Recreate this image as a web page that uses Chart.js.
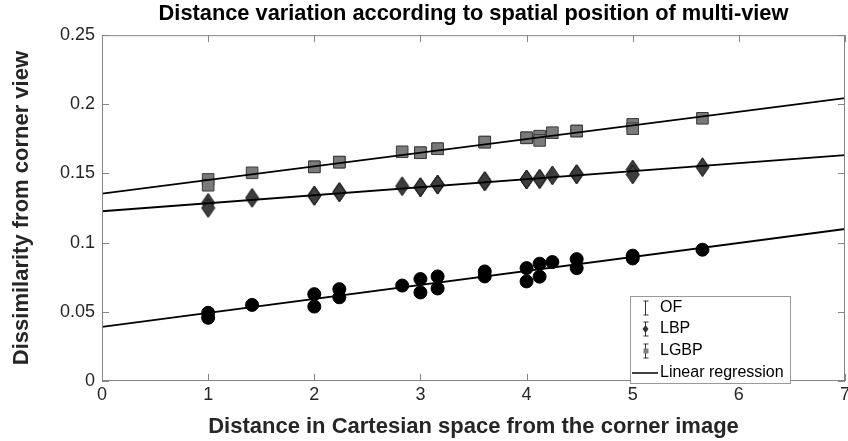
<!DOCTYPE html>
<html>
  <head>
    <title>Distance variation</title>
    <script src="https://cdn.jsdelivr.net/npm/chart.js@4/dist/chart.umd.min.js"></script>
    <style>
      body { margin: 0; background: #fff; overflow: hidden; }
      #container { width: 848px; height: 441px; overflow: hidden; }
    </style>
  </head>
  <body>
    <div id="container">
      <!-- a bit wider than the window: Chart.js keeps room for the last x label -->
      <canvas id="canvas" width="855" height="441"></canvas>
    </div>
    <script>
      // distances (sqrt of grid offsets) and dissimilarities
      var xs = [1, 1, 1.414, 2, 2, 2.236, 2.236, 2.828, 3, 3, 3.162, 3.162,
                3.606, 3.606, 4, 4, 4.123, 4.123, 4.243, 4.472, 4.472, 5, 5, 5.657];
      var ofVals = [0.0493, 0.0457, 0.055, 0.0628, 0.0538, 0.0664, 0.0605, 0.069, 0.0737, 0.064,
                    0.0756, 0.0669, 0.0792, 0.0756, 0.0816, 0.072, 0.0848, 0.0754, 0.086,
                    0.0881, 0.0816, 0.0906, 0.0886, 0.0949];
      var lbpVals = [0.1288, 0.1251, 0.1324, 0.134, 0.134, 0.1365, 0.1365, 0.1408, 0.1401, 0.1401,
                     0.142, 0.142, 0.1444, 0.1444, 0.1457, 0.1457, 0.1461, 0.1461, 0.1486,
                     0.1495, 0.1495, 0.1529, 0.1493, 0.1546];
      var lgbpVals = [0.1457, 0.1415, 0.1505, 0.1548, 0.1548, 0.1582, 0.1582, 0.1657, 0.165, 0.165,
                      0.1679, 0.1679, 0.1727, 0.1727, 0.1758, 0.1758, 0.177, 0.1739, 0.1795,
                      0.1807, 0.1807, 0.1855, 0.1824, 0.1899];
      // regression lines, ends at x = 0 and x = 7
      var fitX = [0, 7];
      var ofFit = [0.0391, 0.1099];
      var lbpFit = [0.1227, 0.1633];
      var lgbpFit = [0.1355, 0.2045];
      var xTicks = [0, 1, 2, 3, 4, 5, 6, 7];
      var yTicks = [0, 0.05, 0.1, 0.15, 0.2, 0.25];
      var legendLabels = ['OF', 'LBP', 'LGBP', 'Linear regression'];

      function pts(x, y) {
        return x.map(function (v, i) { return { x: v, y: y[i] }; });
      }

      // tall diamond marker (MATLAB 'd')
      function diamond(w, h) {
        var c = document.createElement('canvas');
        c.width = w + 2; c.height = h + 2;
        var g = c.getContext('2d');
        g.beginPath();
        g.moveTo(c.width / 2, 1);
        g.lineTo(c.width - 1, c.height / 2);
        g.lineTo(c.width / 2, c.height - 1);
        g.lineTo(1, c.height / 2);
        g.closePath();
        g.fillStyle = '#3d3d3d';
        g.fill();
        g.strokeStyle = '#151515';
        g.lineWidth = 1;
        g.stroke();
        return c;
      }

      var axisColor = '#858585';
      var textColor = '#262626';

      // MATLAB-like box with inward ticks, plus the legend box
      var boxPlugin = {
        id: 'box',
        afterDraw: function (chart) {
          var ctx = chart.ctx, a = chart.chartArea;
          var xs_ = chart.scales.x, ys_ = chart.scales.y;
          ctx.save();
          ctx.strokeStyle = axisColor;
          ctx.lineWidth = 1;
          ctx.strokeRect(a.left + 0.5, a.top + 0.5, a.right - a.left - 1, a.bottom - a.top - 1);
          ctx.beginPath();
          xTicks.forEach(function (t) {
            var px = Math.round(xs_.getPixelForValue(t)) + 0.5;
            ctx.moveTo(px, a.bottom); ctx.lineTo(px, a.bottom - 7);
            ctx.moveTo(px, a.top); ctx.lineTo(px, a.top + 7);
          });
          yTicks.forEach(function (t) {
            var py = Math.round(ys_.getPixelForValue(t)) + 0.5;
            ctx.moveTo(a.left, py); ctx.lineTo(a.left + 7, py);
            ctx.moveTo(a.right, py); ctx.lineTo(a.right - 7, py);
          });
          ctx.stroke();

          // legend
          var lx = 630, ly = 296, lw = 160, lh = 87;
          ctx.fillStyle = '#fff';
          ctx.fillRect(lx, ly, lw, lh);
          ctx.strokeStyle = '#9a9a9a';
          ctx.strokeRect(lx + 0.5, ly + 0.5, lw, lh);
          ctx.font = '16px "Liberation Sans", Arial, sans-serif';
          ctx.fillStyle = '#000';
          ctx.textBaseline = 'middle';
          var rows = [308, 329, 351, 373];
          legendLabels.forEach(function (lab, i) {
            ctx.fillText(lab, 660, rows[i]);
          });
          // error-bar symbols
          ctx.strokeStyle = '#333';
          for (var i = 0; i < 3; i++) {
            var cx = 645.5, cy = rows[i];
            ctx.beginPath();
            ctx.moveTo(cx, cy - 7); ctx.lineTo(cx, cy + 7);
            ctx.moveTo(cx - 2, cy - 7); ctx.lineTo(cx + 3, cy - 7);
            ctx.moveTo(cx - 2, cy + 7); ctx.lineTo(cx + 3, cy + 7);
            ctx.stroke();
          }
          ctx.fillStyle = '#333';
          ctx.beginPath();
          ctx.moveTo(645.5, rows[1] - 4); ctx.lineTo(648.5, rows[1]);
          ctx.lineTo(645.5, rows[1] + 4); ctx.lineTo(642.5, rows[1]);
          ctx.closePath(); ctx.fill();
          ctx.fillStyle = '#808080';
          ctx.fillRect(643.5, rows[2] - 2.5, 5, 5);
          ctx.strokeStyle = '#000';
          ctx.lineWidth = 1.5;
          ctx.beginPath();
          ctx.moveTo(632, rows[3]); ctx.lineTo(658, rows[3]);
          ctx.stroke();
          ctx.restore();
        }
      };

      window.onload = function () {
        var ctx = document.getElementById('canvas').getContext('2d');
        window.myChart = new Chart(ctx, {
          type: 'scatter',
          data: {
            datasets: [
              { label: 'OF fit', type: 'line', data: pts(fitX, ofFit), borderColor: '#000',
                borderWidth: 1.8, pointRadius: 0, order: 0 },
              { label: 'LBP fit', type: 'line', data: pts(fitX, lbpFit), borderColor: '#000',
                borderWidth: 1.8, pointRadius: 0, order: 0 },
              { label: 'LGBP fit', type: 'line', data: pts(fitX, lgbpFit), borderColor: '#000',
                borderWidth: 1.8, pointRadius: 0, order: 0 },
              { label: 'OF', data: pts(xs, ofVals), pointStyle: 'circle', pointRadius: 6.5,
                backgroundColor: '#000', borderColor: '#000', borderWidth: 1, order: 1 },
              { label: 'LBP', data: pts(xs, lbpVals), pointStyle: diamond(13, 19), pointRadius: 9,
                order: 1 },
              { label: 'LGBP', data: pts(xs, lgbpVals), pointStyle: 'rect', pointRadius: 8.2,
                backgroundColor: '#7a7a7a', borderColor: '#3a3a3a', borderWidth: 1, order: 1 }
            ]
          },
          options: {
            responsive: false,
            animation: false,
            layout: { padding: { left: 0, right: 3, top: 0, bottom: 0 } },
            plugins: {
              legend: { display: false },
              tooltip: { enabled: false },
              title: {
                display: true,
                fullSize: false,
                text: 'Distance variation according to spatial position of multi-view',
                color: '#000',
                font: { family: '"Liberation Sans", Arial', size: 21.8, weight: 'bold' },
                padding: { top: 1, bottom: 8 }
              }
            },
            scales: {
              x: {
                type: 'linear', min: 0, max: 7,
                afterFit: function (s) { s.height = 60; },
                afterBuildTicks: function (s) { s.ticks = xTicks.map(function (v) { return { value: v }; }); },
                grid: { display: false, drawTicks: false },
                border: { display: false },
                ticks: { color: textColor, padding: 3, font: { family: '"Liberation Sans", Arial', size: 18 } },
                title: {
                  display: true, text: 'Distance in Cartesian space from the corner image', color: textColor,
                  font: { family: '"Liberation Sans", Arial', size: 22, weight: 'bold' }, padding: { top: 0, bottom: 1 }
                }
              },
              y: {
                type: 'linear', min: 0, max: 0.25,
                afterFit: function (s) { s.width = 102; s.paddingTop = 0; s.paddingBottom = 0; },
                afterBuildTicks: function (s) { s.ticks = yTicks.map(function (v) { return { value: v }; }); },
                grid: { display: false, drawTicks: false },
                border: { display: false },
                ticks: {
                  color: textColor, padding: 7, font: { family: '"Liberation Sans", Arial', size: 18 },
                  callback: function (v) { return String(parseFloat(v.toFixed(2))); }
                },
                title: {
                  display: true, text: 'Dissimilarity from corner view', color: textColor,
                  font: { family: '"Liberation Sans", Arial', size: 22, weight: 'bold' }, padding: { top: 9, bottom: 0 }
                }
              }
            }
          },
          plugins: [boxPlugin]
        });
      };
    </script>
  </body>
</html>
